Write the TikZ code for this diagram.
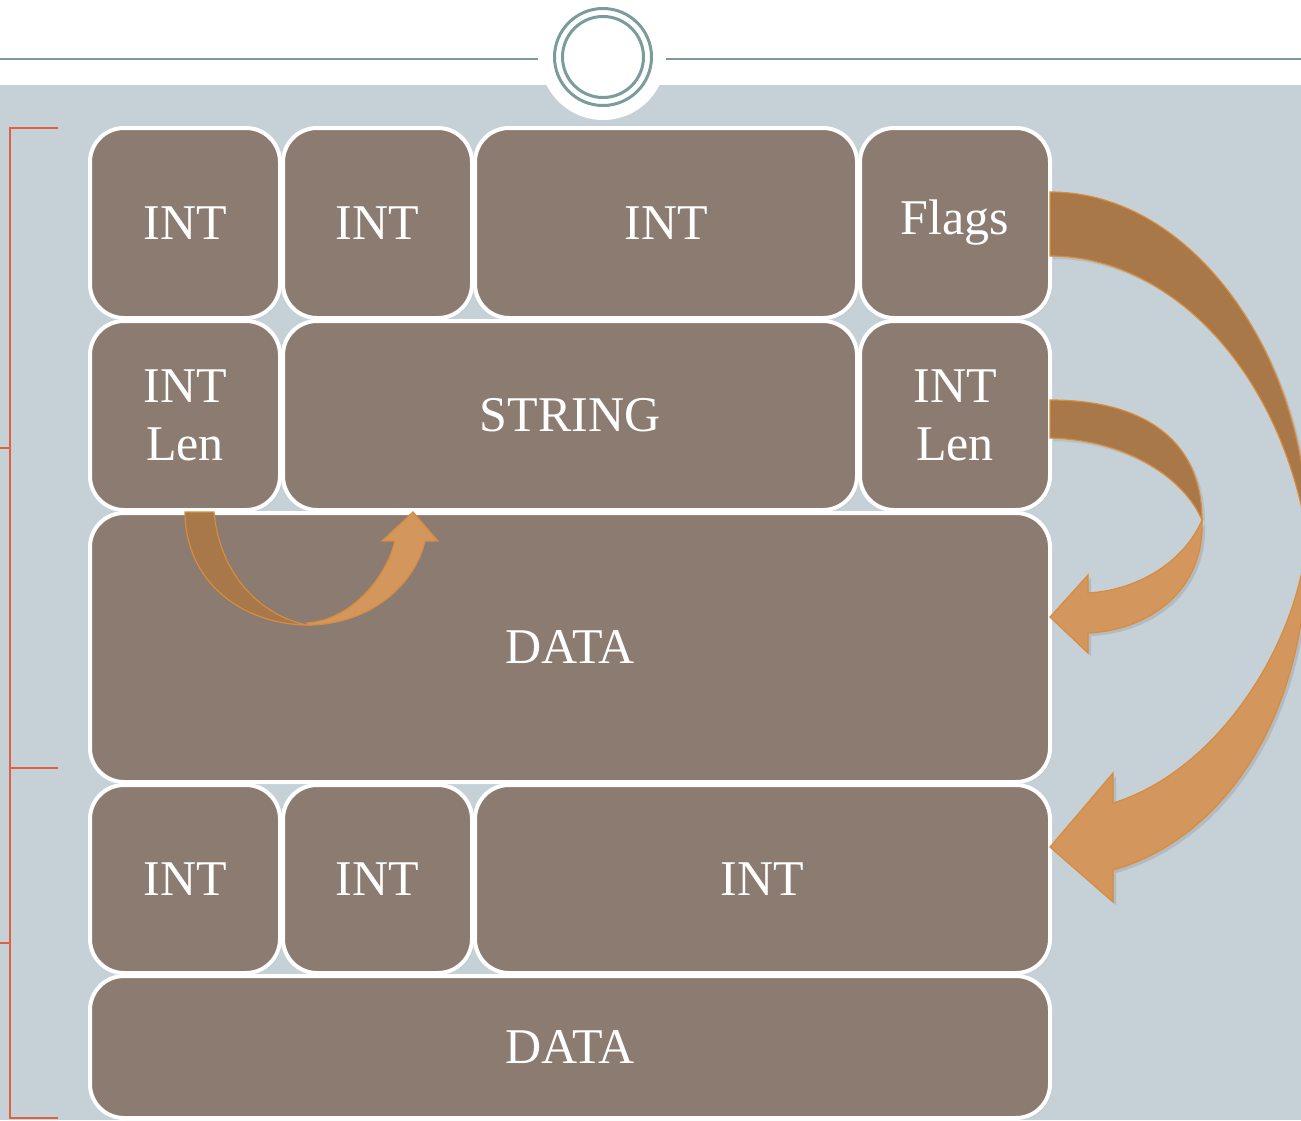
\documentclass[tikz,border=0pt]{standalone}
\usepackage{fontspec}
\setmainfont{Liberation Serif}
\usetikzlibrary{calc, shadows}

\definecolor{slate}{RGB}{197,208,215}
\definecolor{taupe}{RGB}{139,123,113}
\definecolor{ringteal}{RGB}{122,156,156}
\definecolor{ribdark}{RGB}{168,120,73}
\definecolor{ribfront}{RGB}{211,150,92}
\definecolor{ribedge}{RGB}{216,140,62}
\definecolor{bracket}{RGB}{222,98,64}

\begin{document}
\begin{tikzpicture} [
            x=0.5pt, y=-0.5pt,
            cell/.style  = { rectangle, draw=white, line width=2pt, fill=taupe,
                             rounded corners=17pt, text=white, align=center,
                             font=\fontsize{25}{29}\selectfont,
                             inner sep=0pt, outer sep=0pt,
                             drop shadow={opacity=0.15, shadow xshift=1pt,
                                          shadow yshift=-1pt} },
            back/.style  = { fill=ribdark, draw=ribedge, line width=0.6pt,
                             drop shadow={opacity=0.2, shadow xshift=1.5pt,
                                          shadow yshift=-1.5pt} },
            front/.style = { fill=ribfront, draw=ribedge, line width=0.6pt,
                             drop shadow={opacity=0.25, shadow xshift=1.5pt,
                                          shadow yshift=-1.5pt} },
          ]
          \useasboundingbox (0,0) rectangle (1301,1120);

          % page background and title rule
          \fill[white] (0,0) rectangle (1301,85);
          \fill[slate] (0,85) rectangle (1301,1120);
          \draw[ringteal, line width=1pt] (0,59) -- (538,59);
          \draw[ringteal, line width=1pt] (666,59) -- (1301,59);
          \fill[white] (603,57) circle[radius=31.5pt];
          \draw[ringteal, line width=1.5pt] (603,57) circle[radius=24.25pt];
          \draw[ringteal, line width=1.5pt] (603,57) circle[radius=20.25pt];

          % side bracket
          \draw[bracket, line width=1pt] (58,128) -- (10,128) -- (10,1118) -- (58,1118);
          \draw[bracket, line width=1pt] (10,768) -- (58,768);
          \draw[bracket, line width=1pt] (0,448) -- (10,448);
          \draw[bracket, line width=1pt] (0,943) -- (10,943);

          % record layout
          \node (int11) [cell, minimum width=95pt,   minimum height=95pt]    at (185,223)   {INT};
          \node (int12) [cell, minimum width=94.5pt, minimum height=95pt]    at (377.5,223) {INT};
          \node (int13) [cell, minimum width=191pt,  minimum height=95pt]    at (666,223)   {INT};
          \node (flags) [cell, minimum width=95pt,   minimum height=95pt]    at (955,223)   {Flags};
          \node (len1)  [cell, minimum width=95pt,   minimum height=94.5pt]  at (185,415.5) {INT\\Len};
          \node (str)   [cell, minimum width=287pt,  minimum height=94.5pt]  at (570,415.5) {STRING};
          \node (len2)  [cell, minimum width=95pt,   minimum height=94.5pt]  at (955,415.5) {INT\\Len};
          \node (data1) [cell, minimum width=480pt,  minimum height=134.5pt] at (570,647.5) {DATA};
          \node (int41) [cell, minimum width=95pt,   minimum height=94pt]    at (185,879)   {INT};
          \node (int42) [cell, minimum width=94.5pt, minimum height=94pt]    at (377.5,879) {INT};
          \node (int43) [cell, minimum width=287.5pt, minimum height=94pt]   at (762.5,879) {INT};
          \node (data2) [cell, minimum width=480pt,  minimum height=71pt]    at (570,1047)  {DATA};

          % flags -> trailer ints
          \draw[front] (1307,535) .. controls (1310,720) and (1220,840) .. (1113,870)
                -- (1113,902) -- ($(int43.east)+(0,-32)$) -- (1113,773) -- (1113,803)
                .. controls (1220,770) and (1300,640) .. (1307,535) -- cycle;
          \draw[back] ($(flags.east)+(0,-31)$) .. controls (1200,192) and (1310,370) .. (1307,535)
                .. controls (1280,370) and (1170,256) .. ($(flags.east)+(0,33)$) -- cycle;

          % len -> data
          \draw[front] (1202,520) .. controls (1205,590) and (1150,630) .. (1088,633)
                -- (1088,653) -- ($(data1.east)+(0,-30.5)$) -- (1088,575) -- (1088,593)
                .. controls (1140,590) and (1185,560) .. (1202,520) -- cycle;
          \draw[back] ($(len2.east)+(0,-15.5)$) .. controls (1150,400) and (1202,445) .. (1202,520)
                .. controls (1185,480) and (1130,440) .. ($(len2.east)+(0,22.5)$) -- cycle;

          % len -> string
          \draw[front] (307,625) .. controls (370,625) and (415,585) .. (425,541)
                -- (438,541) -- ($(str.south)+(-157,2)$) -- (382,541) -- (395,541)
                .. controls (385,580) and (350,620) .. (307,623) -- cycle;
          \draw[back] ($(len1.south)+(0,2)$) .. controls (185,580) and (240,624) .. (307,625)
                .. controls (260,615) and (220,575) .. ($(len1.south)+(29,2)$) -- cycle;
        \end{tikzpicture}
\end{document}
